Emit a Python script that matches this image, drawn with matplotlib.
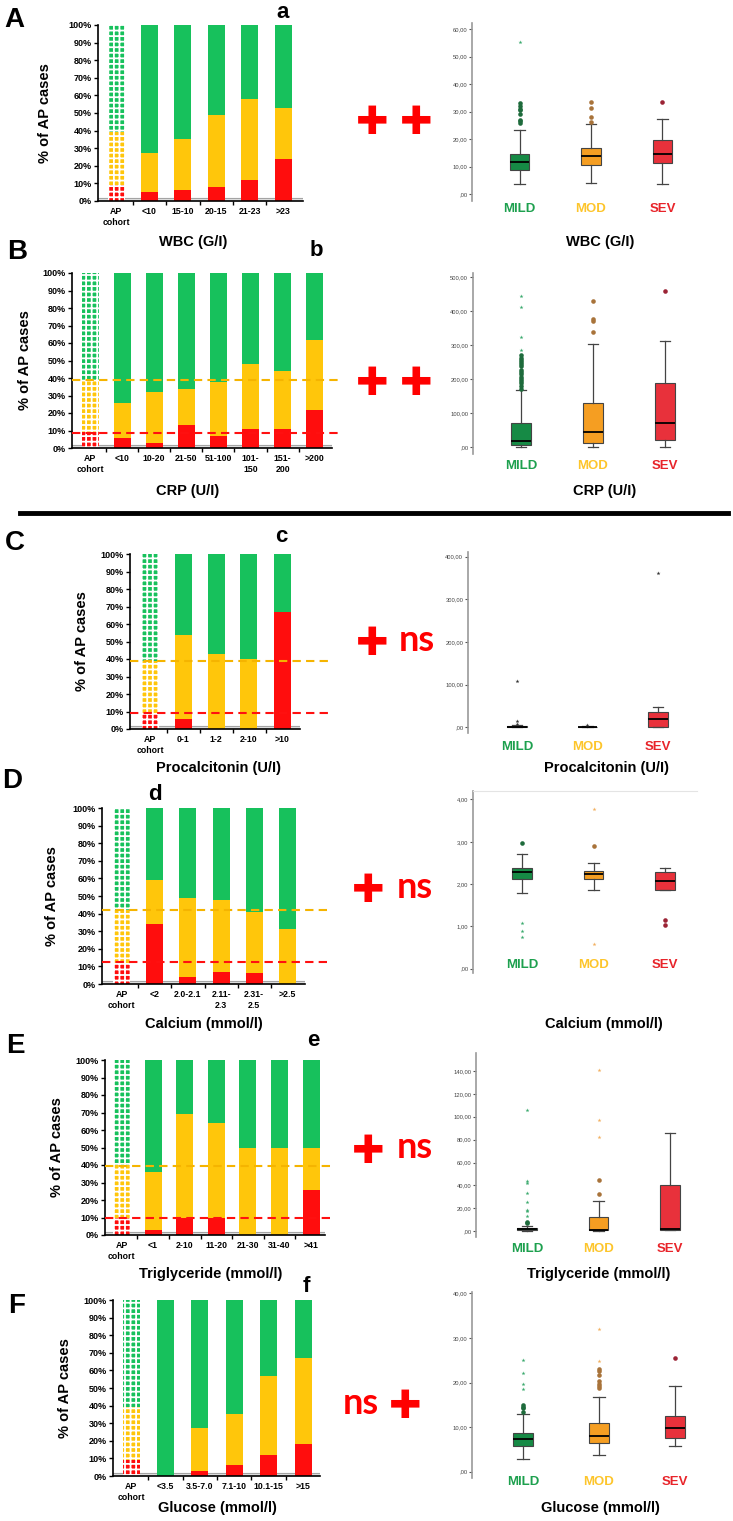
import numpy as np
import matplotlib
matplotlib.use("Agg")
import matplotlib.pyplot as plt
import matplotlib.transforms as mtransforms
from matplotlib.lines import Line2D

W, H = 733, 1521
plt.rcParams['font.family'] = ['Liberation Sans', 'DejaVu Sans']
plt.rcParams['hatch.linewidth'] = 1.3

# ---- stacked bar data (% severe / % moderate, mild is the rest) ----
cats_wbc = ['AP\ncohort', '<10', '15-10', '20-15', '21-23', '>23']
sev_wbc = [9, 5, 6, 8, 12, 24]
mod_wbc = [30, 22, 29, 41, 46, 29]

cats_crp = ['AP\ncohort', '<10', '10-20', '21-50', '51-100', '101-\n150', '151-\n200', '>200']
sev_crp = [9, 6, 3, 13, 7, 11, 11, 22]
mod_crp = [30, 20, 29, 21, 31, 37, 33, 40]

cats_pct = ['AP\ncohort', '0-1', '1-2', '2-10', '>10']
sev_pct = [9, 6, 0, 0, 67]
mod_pct = [30, 48, 43, 40, 0]

cats_ca = ['AP\ncohort', '<2', '2.0-2.1', '2.11-\n2.3', '2.31-\n2.5', '>2.5']
sev_ca = [12, 34, 4, 7, 6, 0]
mod_ca = [30, 25, 45, 41, 35, 31]

cats_tg = ['AP\ncohort', '<1', '2-10', '11-20', '21-30', '31-40', '>41']
sev_tg = [10, 3, 10, 10, 0, 0, 26]
mod_tg = [30, 33, 59, 54, 50, 50, 24]

cats_glu = ['AP\ncohort', '<3.5', '3.5-7.0', '7.1-10', '10.1-15', '>15']
sev_glu = [9, 0, 3, 6, 12, 18]
mod_glu = [30, 0, 24, 29, 45, 49]

# ---- box plot summaries (MILD, MOD, SEV) ----
groups = ['MILD', 'MOD', 'SEV']

wbc_q1, wbc_med, wbc_q3 = [8.6, 10.6, 11.2], [11.6, 13.7, 14.6], [14.6, 16.7, 19.7]
wbc_lo, wbc_hi = [3.5, 4.1, 3.5], [23.2, 25.5, 27.3]
wbc_out = [[26, 26.5, 27, 29, 30.5, 31, 32, 33], [26.1, 28.2, 31.2, 33.6], [33.6]]
wbc_ext = [[55.3], [], []]

crp_q1, crp_med, crp_q3 = [7, 11.8, 21.6], [18.6, 45, 70.6], [72.5, 129, 190]
crp_lo, crp_hi = [2, 2, 2], [168.6, 304, 313.7]
crp_out = [[172, 180, 188, 195, 200, 208, 215, 220, 228, 238, 245, 252, 258, 264, 270],
           [338, 370, 376, 430], [460]]
crp_ext = [[285, 323, 412, 446], [], []]

pct_q1, pct_med, pct_q3 = [0.2, 0.1, 0.5], [1, 0.5, 20], [2.5, 1.2, 35]
pct_lo, pct_hi = [0, 0, 0], [5, 2.5, 48.4]
pct_out = [[], [], []]
pct_ext = [[8, 15, 109], [5.5], [361]]

ca_q1, ca_med, ca_q3 = [2.13, 2.12, 1.87], [2.28, 2.23, 2.07], [2.39, 2.31, 2.28]
ca_lo, ca_hi = [1.79, 1.87, 1.87], [2.70, 2.49, 2.39]
ca_out = [[2.98], [2.90], [1.15, 1.03]]
ca_ext = [[1.09, 0.90, 0.76], [3.78, 0.59], []]

tg_q1, tg_med, tg_q3 = [1.0, 0.8, 1.5], [1.6, 1.2, 1.8], [2.6, 12.2, 40.5]
tg_lo, tg_hi = [0.5, 0.3, 1.3], [4.5, 26.8, 85.6]
tg_out = [[7.5, 8.2], [32.3, 44.5], []]
tg_ext = [[13, 17.5, 18.5, 25.5, 33, 42, 44, 106], [82.4, 97.2, 140.9], []]

glu_q1, glu_med, glu_q3 = [5.83, 6.43, 7.48], [7.25, 8.07, 9.7], [8.75, 10.84, 12.6]
glu_lo, glu_hi = [2.77, 3.74, 5.83], [12.9, 16.8, 19.2]
glu_out = [[13.5, 14.2, 14.6, 15.0], [18.7, 19.2, 19.7, 20.3, 21.8, 22.5, 23.0], [25.6]]
glu_ext = [[18.5, 19.7, 22.1, 25.1], [24.8, 32.1], []]

GREEN, YELLOW, RED = '#17C15C', '#FFC60B', '#FF0D0D'
BOX_COLS = ['#168A45', '#F59E22', '#E8313B']
LABEL_COLS = ['#1DA04E', '#FDC52B', '#E8242A']
OUT_COLS = ['#1E6B3C', '#A8733A', '#9B2335']
EXT_COLS = ['#3BAA6E', '#F2B060', '#9B2335']

fig = plt.figure(figsize=(W / 100, H / 100), dpi=100)


def px_axes(left, top, right, bottom):
    return fig.add_axes([left / W, 1 - bottom / H, (right - left) / W, (bottom - top) / H])


def ftext(x, y, s, **kw):
    kw.setdefault('ha', 'center')
    kw.setdefault('va', 'center')
    fig.text(x / W, 1 - y / H, s, **kw)


def bar_panel(cats, sev, mod, left, right, top, bottom, c0, step, dashes=None, dash_end=330):
    ax = px_axes(left, top, right, bottom)
    x = np.arange(len(cats))
    sev = np.array(sev)
    mod = np.array(mod)
    mild = 100 - sev - mod
    w = 17 / step
    # AP cohort bar, patterned
    for base, h, c in [(0, sev[0], RED), (sev[0], mod[0], YELLOW), (sev[0] + mod[0], mild[0], GREEN)]:
        ax.bar(x[0], h, w, bottom=base, color=c, hatch='+++', edgecolor='white', lw=0, zorder=2)
    ax.bar(x[1:], sev[1:], w, color=RED, zorder=2)
    ax.bar(x[1:], mod[1:], w, bottom=sev[1:], color=YELLOW, zorder=2)
    ax.bar(x[1:], mild[1:], w, bottom=(sev + mod)[1:], color=GREEN, zorder=2)
    ax.axhspan(0, 1.8, color='#dcdcdc', zorder=1)
    ax.axhline(1.8, color='#9a9a9a', lw=0.6, zorder=1)
    if dashes:
        xmax = (dash_end - left) / (right - left)
        ax.axhline(dashes[0], 0, xmax, color='#F5B400', ls=(0, (4, 2.5)), lw=1.5, clip_on=False, zorder=3)
        ax.axhline(dashes[1], 0, xmax, color='#FF1010', ls=(0, (4, 2.5)), lw=1.5, clip_on=False, zorder=3)
    ax.set_xlim((left - c0) / step, (right - c0) / step)
    ax.set_ylim(0, 100)
    ax.set_yticks(range(0, 101, 10))
    ax.set_yticklabels([f'{v}%' for v in range(0, 101, 10)], fontsize=6.5, fontweight='bold')
    ax.set_xticks(x)
    ax.set_xticklabels(cats, fontsize=6.3, fontweight='bold', linespacing=1.3)
    ax.set_xticks(x[:-1] + 0.5, minor=True)
    ax.tick_params(axis='x', which='major', length=0, pad=4)
    ax.tick_params(axis='x', which='minor', length=3, width=1)
    ax.tick_params(axis='y', length=3, width=1, pad=1.5)
    for s in ['top', 'right']:
        ax.spines[s].set_visible(False)
    for s in ['left', 'bottom']:
        ax.spines[s].set_linewidth(1.2)
    return ax


def box_panel(q1, med, q3, lo, hi, out, ext, left, right, top, bottom, ylim, yticks,
              c0, step, label_y, ext_cols=EXT_COLS, top_line=False):
    ax = px_axes(left, top, right, bottom)
    stats = [dict(q1=q1[i], med=med[i], q3=q3[i], whislo=lo[i], whishi=hi[i], fliers=out[i])
             for i in range(3)]
    art = ax.bxp(stats, positions=[0, 1, 2], widths=0.27, capwidths=0.15, patch_artist=True,
                 boxprops=dict(edgecolor='#444444', linewidth=0.8),
                 medianprops=dict(color='black', linewidth=1.3),
                 whiskerprops=dict(color='#444444', linewidth=0.9),
                 capprops=dict(color='#444444', linewidth=0.9),
                 flierprops=dict(marker='o', markersize=3.3, markeredgecolor='none'))
    for patch, c in zip(art['boxes'], BOX_COLS):
        patch.set_facecolor(c)
    for fl, c in zip(art['fliers'], OUT_COLS):
        fl.set_markerfacecolor(c)
    for i, vals in enumerate(ext):
        ax.scatter([i] * len(vals), vals, marker='*', s=9, color=ext_cols[i], lw=0, zorder=3)
    ax.set_xlim((left - c0) / step, (right - c0) / step)
    ax.set_ylim(ylim)
    ax.set_yticks(yticks)
    ax.set_yticklabels([(f'{v:.2f}'.replace('.', ',') if v else ',00') for v in yticks])
    ax.set_xticks([])
    ax.tick_params(axis='y', length=2.5, width=0.8, color='#555555', labelsize=4.2,
                   labelcolor='#444444', pad=1)
    for s in ['right', 'bottom']:
        ax.spines[s].set_visible(False)
    ax.spines['top'].set_visible(top_line)
    ax.spines['top'].set_color('#e4e4e4')
    ax.spines['left'].set_color('#9a9a9a')
    ax.spines['left'].set_linewidth(1.2)
    tr = mtransforms.blended_transform_factory(ax.transData, fig.transFigure)
    for i, g in enumerate(groups):
        ax.text(i, 1 - label_y / H, g, transform=tr, ha='center', va='center',
                fontsize=9.5, fontweight='bold', color=LABEL_COLS[i], clip_on=False)
    return ax


# ---- bar panels ----
bar_panel(cats_wbc, sev_wbc, mod_wbc, 98, 303, 25, 201, 116, 33.4)
bar_panel(cats_crp, sev_crp, mod_crp, 72, 332, 273, 448, 90, 32.1, dashes=(39, 8.5), dash_end=340)
bar_panel(cats_pct, sev_pct, mod_pct, 130, 300, 554, 729, 150, 33, dashes=(39, 9.2), dash_end=330)
bar_panel(cats_ca, sev_ca, mod_ca, 102, 305, 808, 984, 121.5, 33.2, dashes=(42, 12.5), dash_end=330)
bar_panel(cats_tg, sev_tg, mod_tg, 105, 325, 1060, 1235, 121.5, 31.6, dashes=(39.5, 9.5), dash_end=330)
bar_panel(cats_glu, sev_glu, mod_glu, 113, 320, 1300, 1476, 131, 34.4)

# ---- box panels ----
box_panel(wbc_q1, wbc_med, wbc_q3, wbc_lo, wbc_hi, wbc_out, wbc_ext,
          472, 700, 23, 201, (-2.5, 62.2), range(0, 61, 10), 519.5, 71.5, 209)
box_panel(crp_q1, crp_med, crp_q3, crp_lo, crp_hi, crp_out, crp_ext,
          473, 700, 273, 454, (-19.7, 512.6), range(0, 501, 100), 521, 72, 466)
box_panel(pct_q1, pct_med, pct_q3, pct_lo, pct_hi, pct_out, pct_ext,
          468, 700, 552, 733, (-13.4, 411), range(0, 401, 100), 517, 70.5, 747,
          ext_cols=['#333333', '#333333', '#333333'])
box_panel(ca_q1, ca_med, ca_q3, ca_lo, ca_hi, ca_out, ca_ext,
          473, 697, 791, 973, (-0.1, 4.2), range(0, 5), 522, 71.5, 965, top_line=True)
box_panel(tg_q1, tg_med, tg_q3, tg_lo, tg_hi, tg_out, tg_ext,
          476, 700, 1053, 1237, (-5.0, 155.7), range(0, 141, 20), 527, 71.5, 1249)
box_panel(glu_q1, glu_med, glu_q3, glu_lo, glu_hi, glu_out, glu_ext,
          472, 700, 1292, 1478, (-1.4, 40.3), range(0, 41, 10), 523, 76, 1482)

# ---- text ----
lab = dict(fontsize=10.5, fontweight='bold')
for x, y in [(45, 113), (25, 360), (82, 641), (52, 896), (57, 1147), (65, 1388)]:
    ftext(x, y, '% of AP cases', rotation=90, **lab)

for x1, x2, y, s in [(193, 600, 242, 'WBC (G/I)'), (188, 605, 491, 'CRP (U/I)'),
                     (218, 607, 768, 'Procalcitonin (U/I)'), (204, 604, 1024, 'Calcium (mmol/l)'),
                     (211, 599, 1274, 'Triglyceride (mmol/l)'), (217, 600, 1508, 'Glucose (mmol/l)')]:
    ftext(x1, y, s, **lab)
    ftext(x2, y, s, **lab)

for x, y, s in [(14, 20, 'A'), (17, 252, 'B'), (15, 543, 'C'), (12, 781, 'D'), (15, 1046, 'E'), (17, 1306, 'F')]:
    ftext(x, y, s, fontsize=20, fontweight='bold')
for x, y, s in [(283, 13, 'a'), (316, 250, 'b'), (281, 536, 'c'), (155, 795, 'd'), (313, 1041, 'e'), (306, 1286, 'f')]:
    ftext(x, y, s, fontsize=16, fontweight='bold')

plus = dict(fontsize=28, color='#FF0000', family='DejaVu Sans')
ns = dict(fontsize=26, color='#FF0000', fontweight='bold', family='Lato')
ftext(372, 123, '\u271A', **plus)
ftext(416, 123, '\u271A', **plus)
ftext(372, 384, '\u271A', **plus)
ftext(416, 384, '\u271A', **plus)
ftext(372, 644, '\u271A', **plus)
ftext(417, 640, 'ns', **ns)
ftext(368, 891, '\u271A', **plus)
ftext(415, 887, 'ns', **ns)
ftext(368, 1152, '\u271A', **plus)
ftext(415, 1148, 'ns', **ns)
ftext(361, 1403, 'ns', **ns)
ftext(405, 1407, '\u271A', **plus)

fig.add_artist(Line2D([20 / W, 728 / W], [1 - 513 / H] * 2, lw=3.5, color='black'))

fig.savefig('out.png', dpi=100)
